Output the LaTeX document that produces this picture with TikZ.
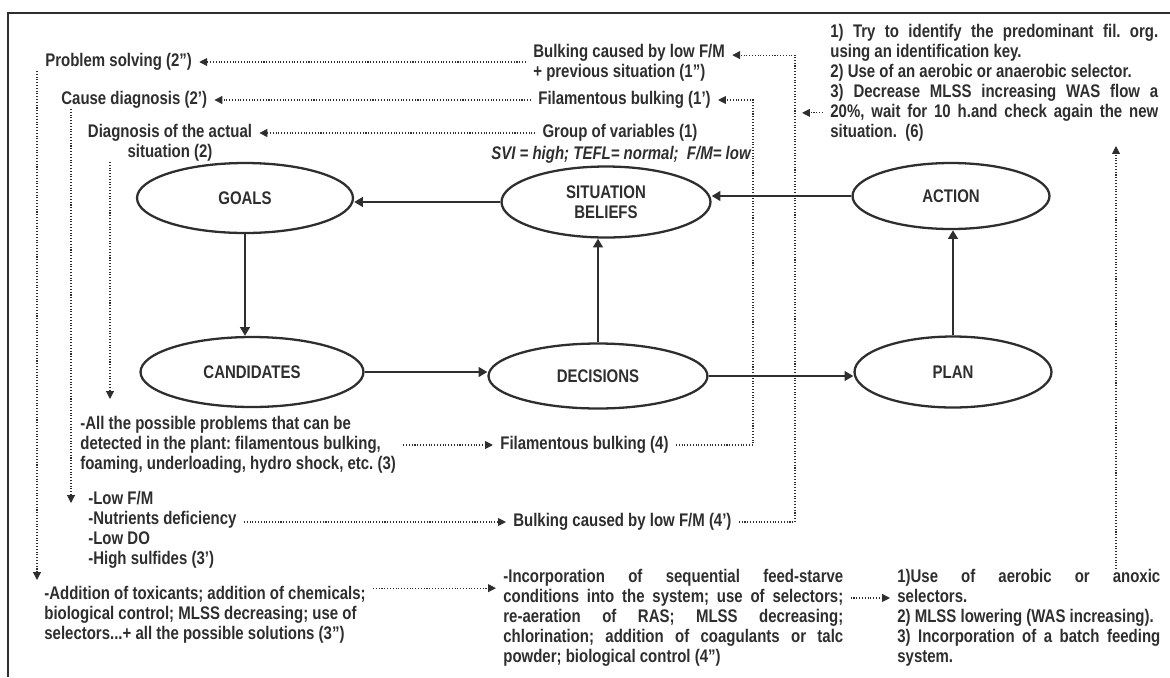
\documentclass[tikz,border=0pt]{standalone}
\usepackage{fontspec}
\setmainfont{Liberation Sans}[FakeStretch=0.82]
\usetikzlibrary{shapes.geometric,arrows.meta}
\frenchspacing
\colorlet{ink}{black!82}
\newcommand{\jl}[1]{\makebox[\hsize][s]{#1}}
\tikzset{
  txt/.style={font=\bfseries\fontsize{10.4}{11.4}\selectfont, text=ink, inner sep=0pt},
  stage/.style={ellipse, draw=ink, line width=1.3pt, inner sep=0pt, align=center,
    font=\bfseries\fontsize{10.4}{11.4}\selectfont, text=ink},
  flow/.style={draw=ink, line width=1.6pt, -{Triangle[length=5pt,width=5.5pt]}},
  dots/.style={draw=ink, densely dotted, line width=0.6pt},
  drop/.style={dots, -{Triangle[length=4.5pt,width=4.5pt]}},
  dotarr/.style={drop, shorten <=4pt, shorten >=4pt}
}

\begin{document}
\begin{tikzpicture}[x=0.02cm,y=-0.02cm]
    \useasboundingbox (0,0) rectangle (1170,677);
    %frame, only the top and left edges show
    \draw[ink, line width=1pt] (8,677) -- (8,13) -- (1170,13);

    %the six stages of the cycle
    \node[stage, minimum width=4.32cm, minimum height=1.4cm] (goals) at (245,198) {GOALS};
    \node[stage, minimum width=4.18cm, minimum height=1.42cm] (sit) at (606,202) {SITUATION\\BELIEFS};
    \node[stage, minimum width=3.94cm, minimum height=1.32cm] (action) at (951,196) {ACTION};
    \node[stage, minimum width=4.46cm, minimum height=1.4cm] (cand) at (252,372) {CANDIDATES};
    \node[stage, minimum width=4.38cm, minimum height=1.3cm] (dec) at (598,376) {DECISIONS};
    \node[stage, minimum width=3.94cm, minimum height=1.42cm] (plan) at (953,372) {PLAN};

    \draw[flow] (sit.west) -- (sit.west -| goals.east);
    \draw[flow] (action.west) -- (action.west -| sit.east);
    \draw[flow] (goals.south) -- (goals.south |- cand.north);
    \draw[flow] (dec.north) -- (dec.north |- sit.south);
    \draw[flow] (cand.east) -- (cand.east -| dec.west);
    \draw[flow] (dec.east) -- (dec.east -| plan.west);
    \draw[flow] (plan.north) -- (plan.north |- action.south);

    %upper texts
    \node[txt, anchor=west] (prob) at (45,62) {Problem solving (2'')};
    \node[txt, anchor=west] (cause) at (61,100) {Cause diagnosis (2')};
    \node[txt, align=center] (diag) at (170,143) {Diagnosis of the actual\\situation (2)};
    \node[txt, anchor=west, align=left] (bulk1) at (533,63) {Bulking caused by low F/M\\+ previous situation (1'')};
    \node[txt, anchor=west] (fil1) at (538,100) {Filamentous bulking (1')};
    \node[txt] (group) at (620,133) {Group of variables (1)};
    \node[txt, font=\bfseries\itshape\fontsize{10.4}{11.4}\selectfont] (svi) at (621,155) {SVI = high; TEFL= normal;\ \ F/M= low};
    \node[txt, anchor=west, text width=6.56cm, align=flush left] (act6) at (830,83) {%
        \jl{1) Try to identify the predominant fil. org.}\\
        using an identification key.\\
        2) Use of an aerobic or anaerobic selector.\\
        \jl{3) Decrease MLSS increasing WAS flow a}\\
        \jl{20\%, wait for 10 h.and check again the new}\\
        situation.\ \ (6)};

    %lower texts
    \node[txt, anchor=west, align=left] (all3) at (80,445) {-All the possible problems that can be\\detected in the plant: filamentous bulking,\\foaming, underloading, hydro shock, etc. (3)};
    \node[txt, anchor=west, align=left] (low3) at (88,530) {-Low F/M\\-Nutrients deficiency\\-Low DO\\-High sulfides (3')};
    \node[txt, anchor=west, align=left] (add3) at (44,615) {-Addition of toxicants; addition of chemicals;\\biological control; MLSS decreasing; use of\\selectors...+ all the possible solutions (3'')};
    \node[txt, anchor=west] (fil4) at (500,445) {Filamentous bulking (4)};
    \node[txt, anchor=west] (bulk4) at (513,522) {Bulking caused by low F/M (4')};
    \node[txt, anchor=west, text width=6.8cm, align=flush left] (mid4) at (503,618) {%
        \jl{-Incorporation of sequential feed-starve}\\
        \jl{conditions into the system; use of selectors;}\\
        \jl{re-aeration of RAS; MLSS decreasing;}\\
        \jl{chlorination; addition of coagulants or talc}\\
        powder; biological control (4'')};
    \node[txt, anchor=west, text width=5.26cm, align=flush left] (sol6) at (897,618) {%
        \jl{1)Use of aerobic or anoxic}\\
        selectors.\\
        2) MLSS lowering (WAS increasing).\\
        \jl{3) Incorporation of a batch feeding}\\
        system.};

    %rails and tips of the dotted links
    \coordinate (railF) at (753,0);
    \coordinate (railB) at (795,0);
    \coordinate (tipA) at (37,580);
    \coordinate (tipB) at (71,503);
    \coordinate (tipC) at (110,399);
    \coordinate (tipD) at (1116,146);

    \draw[dotarr] (bulk1.west |- prob.east) -- (prob.east);
    \draw[dotarr] (fil1.west) -- (fil1.west -| cause.east);
    \draw[dotarr] (group.west) -- (group.west -| diag.east);
    \draw[drop] (prob.south west -| tipA) -- (tipA);
    \draw[drop] (cause.south west -| tipB) -- (tipB);
    \draw[drop] (diag.south -| tipC) -- (tipC);
    \draw[drop] (sol6.north -| tipD) -- (tipD);
    \draw[dotarr] (all3.east) -- (all3.east -| fil4.west);
    \draw[dotarr] (low3.east |- bulk4.west) -- (bulk4.west);
    \draw[dotarr] (fil4.east) -- (fil4.east -| railF) |- (fil1.east);
    \draw[dotarr] (bulk4.east) -- (bulk4.east -| railB) |- ([yshift=4.5pt]bulk1.east);
    \draw[dotarr] ([yshift=-17pt]act6.west) -- ([yshift=-17pt]act6.west -| railB);
    \draw[dotarr] ([yshift=17pt]mid4.west -| add3.east) -- ([yshift=17pt]mid4.west);
    \draw[dotarr] ([yshift=11.4pt]mid4.east) -- ([yshift=11.4pt]mid4.east -| sol6.west);
\end{tikzpicture}
\end{document}
